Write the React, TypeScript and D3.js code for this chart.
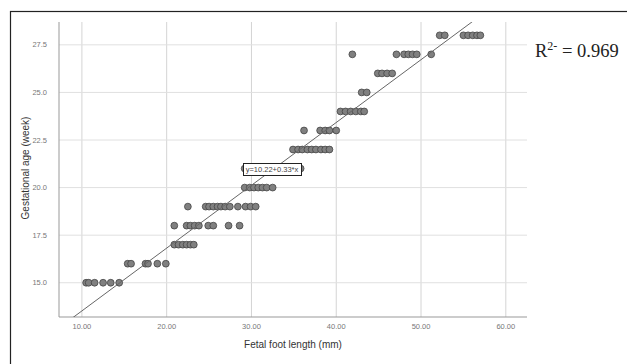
import React, { useEffect, useRef } from "react";
import * as d3 from "d3";

// gestational age (weeks) and the foot lengths (mm) measured at each week
const weeks = [15, 16, 17, 18, 19, 20, 21, 22, 23, 24, 25, 26, 27, 28];
const footLengths = [
  [10.5, 10.8, 11.5, 12.5, 13.4, 14.4],
  [15.4, 15.8, 17.5, 17.8, 18.9, 19.9],
  [20.9, 21.4, 21.9, 22.35, 22.8, 23.2],
  [20.9, 22.35, 22.8, 23.3, 23.8, 24.9, 25.5, 27.3, 28.6],
  [22.5, 24.6, 25.0, 25.5, 26.0, 26.4, 26.9, 27.45, 28.4, 29.3, 29.9, 30.5],
  [29.2, 29.8, 30.3, 30.8, 31.3, 31.8, 32.5],
  [29.2, 31.0, 33.0, 34.5, 35.8],
  [34.9, 35.5, 36.0, 36.6, 37.1, 37.6, 38.2, 38.7, 39.2],
  [36.2, 38.1, 38.7, 39.2, 40.0],
  [40.5, 41.1, 41.7, 42.3, 42.9, 43.3],
  [43.0, 43.6],
  [44.9, 45.4, 46.0, 46.6],
  [41.9, 47.1, 48.0, 48.5, 49.0, 49.5, 51.2],
  [52.2, 52.8, 55.0, 55.55, 56.1, 56.6, 57.0],
];
const xTicks = [10, 20, 30, 40, 50, 60];
const yTicks = [15, 17.5, 20, 22.5, 25, 27.5];
const intercept = 10.22;
const slope = 0.33;
const rSquared = "0.969";

const App = () => {
  const ref = useRef<SVGSVGElement | null>(null);

  useEffect(() => {
    const svg = d3.select(ref.current);
    svg.selectAll("*").remove();

    const left = 59, right = 527, top = 22, bottom = 317;
    const x = d3.scaleLinear().domain([7.3, 62.5]).range([left, right]);
    const y = d3.scaleLinear().domain([13.2, 28.7]).range([bottom, top]);

    // outer frame
    svg.append("rect").attr("x", 10.5).attr("y", 11.5).attr("width", 640).attr("height", 400)
      .attr("fill", "none").attr("stroke", "#222").attr("stroke-width", 1.2);

    // grid
    svg.append("g").selectAll("line").data(xTicks).join("line")
      .attr("x1", (d) => x(d)).attr("x2", (d) => x(d)).attr("y1", top).attr("y2", bottom)
      .attr("stroke", "#d4d4d4");
    svg.append("g").selectAll("line").data(yTicks).join("line")
      .attr("x1", left).attr("x2", right).attr("y1", (d) => y(d)).attr("y2", (d) => y(d))
      .attr("stroke", "#e0e0e0");

    // axis lines
    svg.append("line").attr("x1", left).attr("x2", left).attr("y1", top).attr("y2", bottom).attr("stroke", "#999");
    svg.append("line").attr("x1", left).attr("x2", right).attr("y1", bottom).attr("y2", bottom).attr("stroke", "#999");

    // tick labels
    svg.append("g").selectAll("text").data(xTicks).join("text")
      .attr("x", (d) => x(d)).attr("y", bottom + 12).attr("text-anchor", "middle")
      .style("font-family", "Liberation Sans, Arial").style("font-size", "7.5px").attr("fill", "#777")
      .text((d) => d.toFixed(2));
    svg.append("g").selectAll("text").data(yTicks).join("text")
      .attr("x", 47).attr("y", (d) => y(d) + 2.5).attr("text-anchor", "end")
      .style("font-family", "Liberation Sans, Arial").style("font-size", "7.5px").attr("fill", "#777")
      .text((d) => d.toFixed(1));

    // axis titles
    svg.append("text").attr("x", 293).attr("y", 348).attr("text-anchor", "middle")
      .style("font-family", "Liberation Sans, Arial").style("font-size", "10px").attr("fill", "#333")
      .text("Fetal foot length (mm)");
    svg.append("text").attr("transform", `translate(29,168) rotate(-90)`).attr("text-anchor", "middle")
      .style("font-family", "Liberation Sans, Arial").style("font-size", "10px").attr("fill", "#333")
      .text("Gestational age (week)");

    // points
    const points = weeks.flatMap((w, i) => footLengths[i].map((f) => ({ f, w })));
    svg.append("g").selectAll("circle").data(points).join("circle")
      .attr("cx", (d) => x(d.f)).attr("cy", (d) => y(d.w)).attr("r", 3.4)
      .attr("fill", "#808080").attr("stroke", "#444").attr("stroke-width", 0.8);

    // fit line, clipped to the plot
    svg.append("clipPath").attr("id", "plotclip").append("rect")
      .attr("x", left).attr("y", top).attr("width", right - left).attr("height", bottom - top);
    const xs = [x.domain()[0], x.domain()[1]];
    svg.append("path").attr("clip-path", "url(#plotclip)")
      .datum(xs)
      .attr("d", d3.line<number>().x((d) => x(d)).y((d) => y(intercept + slope * d)))
      .attr("stroke", "#666").attr("stroke-width", 1).attr("fill", "none");

    // equation label
    const lx = 243, ly = 163;
    svg.append("rect").attr("x", lx + 0.5).attr("y", ly + 0.5).attr("width", 58).attr("height", 12)
      .attr("fill", "#fff").attr("stroke", "#222").attr("stroke-width", 1);
    svg.append("text").attr("x", lx + 29).attr("y", ly + 9.3).attr("text-anchor", "middle")
      .style("font-family", "Liberation Sans, Arial").style("font-size", "7.5px").attr("fill", "#444")
      .text(`y=${intercept}+${slope}*x`);

    // R squared
    const r = svg.append("text").attr("x", 535).attr("y", 57)
      .style("font-family", "Liberation Serif, Times New Roman, serif").style("font-size", "18.5px").attr("fill", "#222");
    r.append("tspan").text("R");
    r.append("tspan").attr("dy", -7).style("font-size", "12px").text("2-");
    r.append("tspan").attr("dy", 7).text(` = ${rSquared}`);
  }, []);

  return <svg ref={ref} width={627} height={364} style={{ position: "absolute", left: 0, top: 0, background: "#fff" }} />;
};

export default App;
